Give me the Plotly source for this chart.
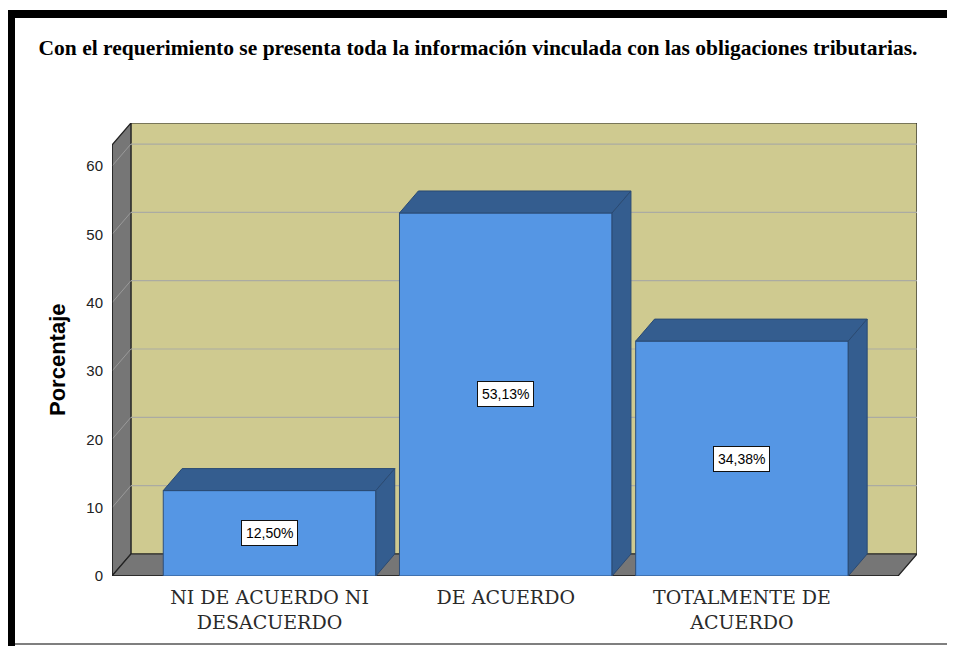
import plotly.graph_objects as go

# ---- data ----
categories = ["NI DE ACUERDO NI<br>DESACUERDO", "DE ACUERDO", "TOTALMENTE DE<br>ACUERDO"]
values = [12.50, 53.13, 34.38]
value_labels = ["12,50%", "53,13%", "34,38%"]
y_ticks = [0, 10, 20, 30, 40, 50, 60]
title_text = "Con el requerimiento se presenta toda la información vinculada con las obligaciones tributarias."
y_title = "Porcentaje"

# ---- style / geometry ----
OFF = 8  # page body margin offset
W, H = 955, 646
ML, MR, MT, MB = 112 - OFF, 38 + OFF, 123 - OFF, 70 + OFF
X_MIN, X_MAX = -0.667, 2.741
Y_MAX_AXIS = 66.3
DX, DY = 0.080, 3.22          # 3D depth offset in data units
BAR_W = 0.9
FRONT_RIGHT = X_MAX - DX
WALL_TOP = Y_MAX_AXIS - DY

WALL = "#CFCA90"
FLOOR = "#767676"
FRONT = "#5596E4"
DARK = "#345D8F"
GRID = "#ABABA2"
EDGE = "#222222"

fig = go.Figure()

fig.add_trace(go.Bar(
    x=list(range(len(values))), y=values, width=BAR_W,
    marker=dict(color=FRONT, line=dict(color="#2D4F7C", width=1)),
    hoverinfo="skip", showlegend=False,
))

shapes = []
def path(pts):
    return "M " + " L ".join(f"{x},{y}" for x, y in pts) + " Z"

# back wall
shapes.append(dict(type="path", xref="x", yref="y", layer="below",
                   path=path([(X_MIN + DX, DY), (X_MAX, DY), (X_MAX, Y_MAX_AXIS), (X_MIN + DX, Y_MAX_AXIS)]),
                   fillcolor=WALL, line=dict(color=EDGE, width=1.2)))
# left wall
shapes.append(dict(type="path", xref="x", yref="y", layer="below",
                   path=path([(X_MIN, 0), (X_MIN + DX, DY), (X_MIN + DX, Y_MAX_AXIS), (X_MIN, WALL_TOP)]),
                   fillcolor=FLOOR, line=dict(color=EDGE, width=1.2)))
# floor
shapes.append(dict(type="path", xref="x", yref="y", layer="below",
                   path=path([(X_MIN, 0), (FRONT_RIGHT, 0), (X_MAX, DY), (X_MIN + DX, DY)]),
                   fillcolor=FLOOR, line=dict(color=EDGE, width=1.2)))
# grid lines
for t in y_ticks[1:]:
    shapes.append(dict(type="line", xref="x", yref="y", layer="below",
                       x0=X_MIN + DX, x1=X_MAX, y0=t + DY, y1=t + DY,
                       line=dict(color=GRID, width=1.2)))
    shapes.append(dict(type="line", xref="x", yref="y", layer="below",
                       x0=X_MIN, x1=X_MIN + DX, y0=t, y1=t + DY,
                       line=dict(color="#9A9A9A", width=1)))
# front axis line & base
shapes.append(dict(type="line", xref="x", yref="y", layer="below",
                   x0=X_MIN, x1=X_MIN, y0=0, y1=WALL_TOP, line=dict(color=EDGE, width=1.5)))
shapes.append(dict(type="line", xref="x", yref="y", layer="below",
                   x0=X_MIN, x1=FRONT_RIGHT, y0=0, y1=0, line=dict(color=EDGE, width=1.5)))

# bar tops and sides
h = BAR_W / 2
for i, v in enumerate(values):
    shapes.append(dict(type="path", xref="x", yref="y", layer="above",
                       path=path([(i - h, v), (i - h + DX, v + DY), (i + h + DX, v + DY), (i + h, v)]),
                       fillcolor=DARK, line=dict(color="#2A4A73", width=1)))
    shapes.append(dict(type="path", xref="x", yref="y", layer="above",
                       path=path([(i + h, 0), (i + h + DX, DY), (i + h + DX, v + DY), (i + h, v)]),
                       fillcolor=DARK, line=dict(color="#2A4A73", width=1)))

# page frame (paper coords from page pixels)
def px(xp):
    return (xp - OFF - ML) / (W - ML - MR)
def py(yp):
    return (H - MB - (yp - OFF)) / (H - MT - MB)

shapes.append(dict(type="rect", xref="paper", yref="paper", layer="above",
                   x0=px(8), x1=px(965), y0=py(18), y1=py(10), fillcolor="black", line=dict(width=0)))
shapes.append(dict(type="rect", xref="paper", yref="paper", layer="above",
                   x0=px(8), x1=px(15), y0=py(660), y1=py(10), fillcolor="black", line=dict(width=0)))
shapes.append(dict(type="line", xref="paper", yref="paper", layer="above",
                   x0=px(15), x1=px(965), y0=py(644), y1=py(644), line=dict(color="#555555", width=1.5)))

annotations = []
for i, (v, lab) in enumerate(zip(values, value_labels)):
    annotations.append(dict(x=i, y=v / 2, xref="x", yref="y", text=lab, showarrow=False,
                            font=dict(family="Liberation Sans, Arial", size=14, color="black"),
                            bgcolor="white", bordercolor="#111111", borderwidth=1, borderpad=4))
annotations.append(dict(x=px(57), y=py(360), xref="paper", yref="paper", text=f"<b>{y_title}</b>",
                        textangle=-90, showarrow=False, xanchor="center", yanchor="middle",
                        font=dict(family="Liberation Sans, Arial", size=22, color="black")))

fig.update_layout(
    width=W, height=H,
    margin=dict(l=ML, r=MR, t=MT, b=MB),
    paper_bgcolor="white", plot_bgcolor="white",
    title=dict(text=f"<b>{title_text}</b>", x=(478 - OFF) / W, xanchor="center",
               y=1 - (47 - OFF) / H, yanchor="middle",
               font=dict(family="Liberation Serif, Times New Roman", size=21.5, color="black")),
    xaxis=dict(range=[X_MIN, X_MAX], tickvals=list(range(len(categories))), ticktext=categories,
               showgrid=False, zeroline=False, showline=False, ticks="", ticklabelstandoff=8,
               tickfont=dict(family="DejaVu Serif", size=19, color="#2a2a2a"), fixedrange=True),
    yaxis=dict(range=[0, Y_MAX_AXIS], tickvals=y_ticks, ticktext=[str(t) for t in y_ticks],
               showgrid=False, zeroline=False, showline=False, ticks="", ticklabelstandoff=8,
               tickfont=dict(family="Liberation Sans, Arial", size=15, color="#222222"), fixedrange=True),
    shapes=shapes, annotations=annotations, bargap=0.1,
)

fig.write_html("out.html")
